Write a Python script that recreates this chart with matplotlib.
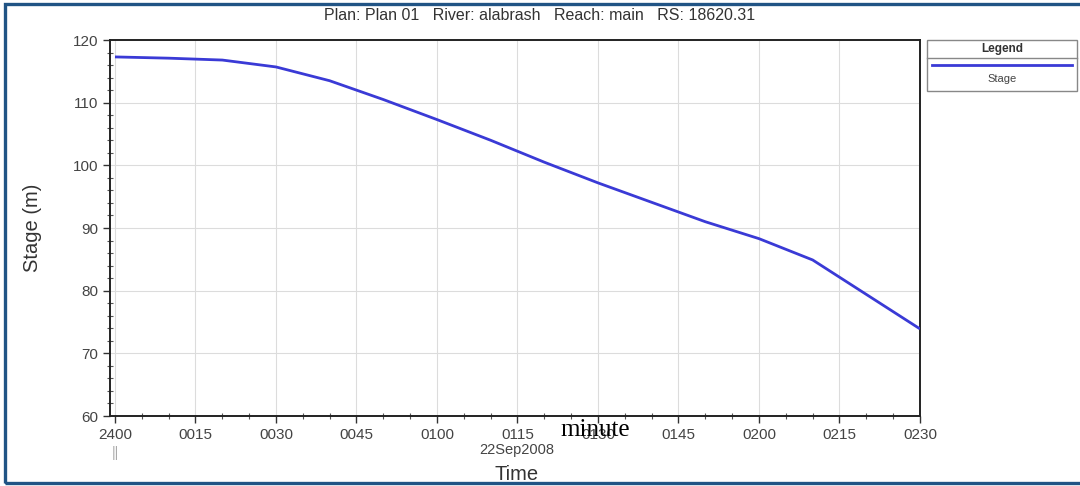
import numpy as np
import matplotlib.pyplot as plt
from matplotlib.patches import Rectangle
from matplotlib.lines import Line2D
from matplotlib.ticker import MultipleLocator

plt.rcParams['font.family'] = ['Liberation Sans', 'DejaVu Sans']

# stage hydrograph, minutes after 2400 on 22Sep2008
minutes = [0, 10, 20, 30, 40, 50, 60, 70, 80, 90, 100, 110, 120, 130, 140, 150]
stage = [117.3, 117.1, 116.8, 115.7, 113.5, 110.5, 107.3, 104.0, 100.5,
         97.2, 94.1, 91.0, 88.3, 84.9, 79.4, 73.9]

tick_min = [0, 15, 30, 45, 60, 75, 90, 105, 120, 135, 150]
tick_lab = ['2400', '0015', '0030', '0045', '0100', '0115', '0130',
            '0145', '0200', '0215', '0230']

title = 'Plan: Plan 01   River: alabrash   Reach: main   RS: 18620.31'

W, H = 1080, 486
fig = plt.figure(figsize=(W / 100, H / 100), dpi=100)
fig.patch.set_facecolor('white')

def fx(px):
    return px / W

def fy(py):
    return 1 - py / H

ax = fig.add_axes([fx(110), fy(416), fx(920) - fx(110), fy(40) - fy(416)])
ax.plot(minutes, stage, color='#3a3ad6', lw=2.0, solid_capstyle='butt', zorder=3)

ax.set_xlim(-0.93, 150)
ax.set_ylim(60, 120)
ax.set_xticks(tick_min)
ax.set_xticklabels(tick_lab)
ax.xaxis.set_minor_locator(MultipleLocator(5))
ax.yaxis.set_major_locator(MultipleLocator(10))
ax.yaxis.set_minor_locator(MultipleLocator(2))
ax.grid(True, which='major', color='#dcdcdc', lw=0.8)
ax.tick_params(which='major', direction='out', length=5, width=1,
               labelsize=11, labelcolor='#444444', color='#333333')
ax.tick_params(which='minor', direction='inout', length=5, width=0.8, color='#555555')
for s in ax.spines.values():
    s.set_color('#222222')
    s.set_linewidth(1.4)

ax.set_ylabel('Stage (m)', fontsize=14.5, color='#333333', labelpad=22)

fig.text(0.5, fy(15), title, ha='center', va='center', fontsize=11.5, color='#333333')
fig.text(fx(517), fy(450), '22Sep2008', ha='center', va='center', fontsize=10.5, color='#444444')
fig.text(fx(517), fy(474), 'Time', ha='center', va='center', fontsize=14.5, color='#333333')
fig.text(fx(115), fy(453), '||', ha='center', va='center', fontsize=10, color='#aaaaaa')
fig.text(fx(595), fy(430), 'minute', ha='center', va='center', fontsize=18,
         family='Liberation Serif', color='black')

# legend panel
lx0, lx1, ly0, ly1 = 927, 1077, 40, 91
fig.patches.append(Rectangle((fx(lx0), fy(ly1)), fx(lx1) - fx(lx0), fy(ly0) - fy(ly1),
                             transform=fig.transFigure, fill=False,
                             ec='#888888', lw=1.0))
fig.lines.append(Line2D([fx(lx0), fx(lx1)], [fy(58), fy(58)],
                        transform=fig.transFigure, color='#888888', lw=1.0))
fig.lines.append(Line2D([fx(932), fx(1072)], [fy(65), fy(65)],
                        transform=fig.transFigure, color='#3a3ad6', lw=2.0))
fig.text(fx(1002), fy(49), 'Legend', ha='center', va='center', fontsize=8.5,
         weight='bold', color='#333333')
fig.text(fx(1002), fy(79), 'Stage', ha='center', va='center', fontsize=8,
         color='#444444')

# outer frame
fig.patches.append(Rectangle((fx(5), fy(483)), fx(1090) - fx(5), fy(4) - fy(483),
                             transform=fig.transFigure, fill=False,
                             ec='#215485', lw=2.4))

fig.savefig('out.png', dpi=100)
